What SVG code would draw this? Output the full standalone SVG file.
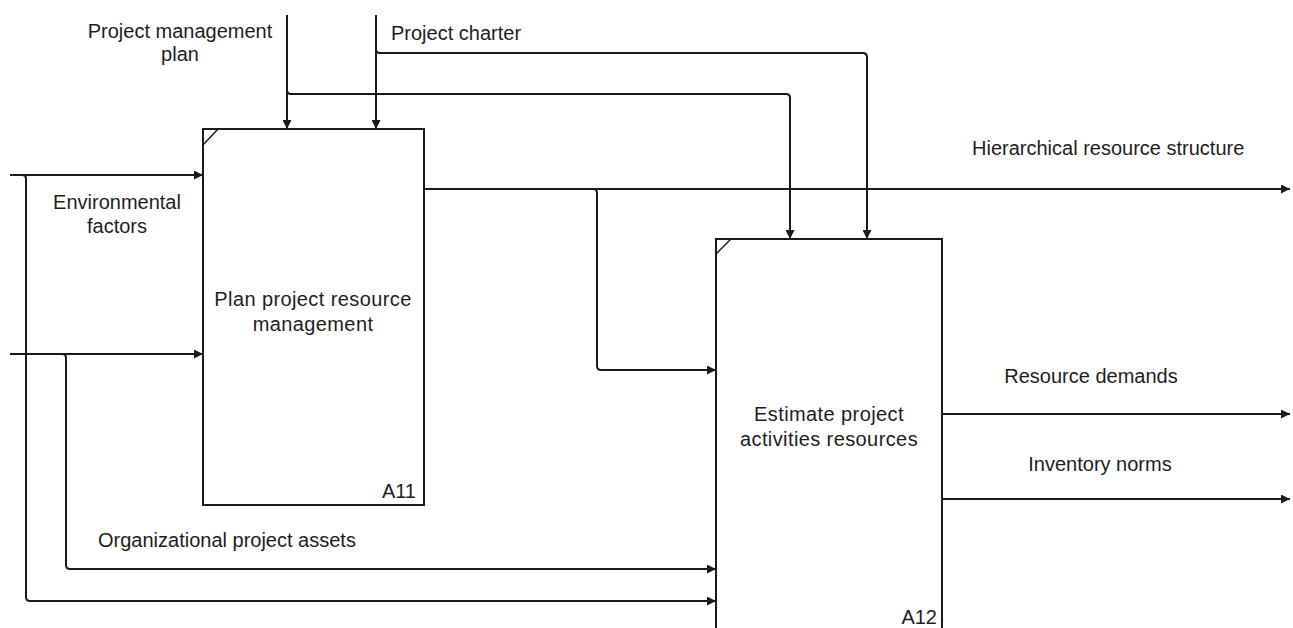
<svg xmlns="http://www.w3.org/2000/svg" width="1293" height="628" viewBox="0 0 1293 628">
  <style>
    .box { fill: #ffffff; stroke: #1a1a1a; stroke-width: 2; }
    .corner { stroke: #1a1a1a; stroke-width: 1.4; fill: none; }
    .arc { fill: none; stroke: #1a1a1a; stroke-width: 2; }
    .lbl { font-family: "Liberation Sans", Arial, sans-serif; font-size: 20px; fill: #1e1e1e; }
    .wide { letter-spacing: 0.4px; }
    .mid { text-anchor: middle; }
    .end { text-anchor: end; }
  </style>
  <defs>
    <marker id="arrow" viewBox="0 0 10 10" refX="10" refY="5" markerWidth="11" markerHeight="9" markerUnits="userSpaceOnUse" orient="auto">
      <path d="M0,0 L10,5 L0,10 Z" fill="#1a1a1a"/>
    </marker>
  </defs>
  <rect width="1293" height="628" fill="#ffffff"/>

  <!-- activity boxes -->
  <g id="a11">
    <rect class="box" x="203" y="129" width="221" height="376"/>
    <line class="corner" x1="203" y1="145" x2="218" y2="129"/>
    <text class="lbl wide mid" x="313" y="306">Plan project resource</text>
    <text class="lbl wide mid" x="313" y="331">management</text>
    <text class="lbl end" x="416" y="498">A11</text>
  </g>
  <g id="a12">
    <rect class="box" x="716" y="239" width="226" height="420"/>
    <line class="corner" x1="716" y1="254" x2="731" y2="239"/>
    <text class="lbl wide mid" x="829" y="421">Estimate project</text>
    <text class="lbl wide mid" x="829" y="446">activities resources</text>
    <text class="lbl end" x="937" y="624">A12</text>
  </g>

  <!-- arrows -->
  <g id="connectors">
    <!-- controls -->
    <path class="arc" d="M287,15 L287,129" marker-end="url(#arrow)"/>
    <path class="arc" d="M287,90 Q287,94 291,94 L786,94 Q790,94 790,98 L790,239" marker-end="url(#arrow)"/>
    <path class="arc" d="M376,15 L376,129" marker-end="url(#arrow)"/>
    <path class="arc" d="M376,49 Q376,53 380,53 L863,53 Q867,53 867,57 L867,239" marker-end="url(#arrow)"/>

    <!-- inputs -->
    <path class="arc" d="M10,175 L203,175" marker-end="url(#arrow)"/>
    <path class="arc" d="M22,175 Q26,175 26,179 L26,597 Q26,601 30,601 L716,601" marker-end="url(#arrow)"/>
    <path class="arc" d="M10,354 L203,354" marker-end="url(#arrow)"/>
    <path class="arc" d="M62,354 Q66,354 66,358 L66,565 Q66,569 70,569 L716,569" marker-end="url(#arrow)"/>

    <!-- outputs -->
    <path class="arc" d="M424,189 L1290,189" marker-end="url(#arrow)"/>
    <path class="arc" d="M593,189 Q597,189 597,193 L597,366 Q597,370 601,370 L716,370" marker-end="url(#arrow)"/>
    <path class="arc" d="M942,414 L1290,414" marker-end="url(#arrow)"/>
    <path class="arc" d="M942,499 L1290,499" marker-end="url(#arrow)"/>
  </g>

  <!-- arrow labels -->
  <g id="labels">
    <text class="lbl mid" x="180" y="38">Project management</text>
    <text class="lbl mid" x="180" y="61">plan</text>
    <text class="lbl" x="391" y="40">Project charter</text>
    <text class="lbl mid" x="117" y="209">Environmental</text>
    <text class="lbl mid" x="117" y="233">factors</text>
    <text class="lbl" x="98" y="547">Organizational project assets</text>
    <text class="lbl" x="972" y="155">Hierarchical resource structure</text>
    <text class="lbl mid" x="1091" y="383">Resource demands</text>
    <text class="lbl mid" x="1100" y="471">Inventory norms</text>
  </g>
</svg>
